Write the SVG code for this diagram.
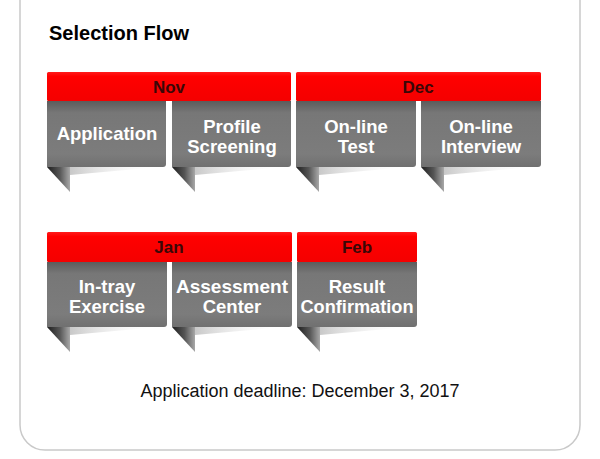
<svg xmlns="http://www.w3.org/2000/svg" width="600" height="459" viewBox="0 0 600 459">
<defs>
<linearGradient id="gBox" x1="0" y1="0" x2="0" y2="1">
<stop offset="0" stop-color="#5c5c5c"/>
<stop offset="0.18" stop-color="#777"/>
<stop offset="0.8" stop-color="#7c7c7c"/>
<stop offset="1" stop-color="#707070"/>
</linearGradient>
<linearGradient id="gTail" x1="0" y1="0" x2="1" y2="0">
<stop offset="0" stop-color="#1e1e1e"/>
<stop offset="0.55" stop-color="#555"/>
<stop offset="1" stop-color="#a8a8a8"/>
</linearGradient>
<linearGradient id="gShadow" x1="0" y1="0" x2="1" y2="0">
<stop offset="0" stop-color="#c8c8c8"/>
<stop offset="1" stop-color="#ffffff" stop-opacity="0"/>
</linearGradient>
<linearGradient id="gRed" x1="0" y1="0" x2="0" y2="1">
<stop offset="0" stop-color="#ff1a1a"/>
<stop offset="0.15" stop-color="#ff0000"/>
<stop offset="1" stop-color="#f40000"/>
</linearGradient>
</defs>
<style>
.frame{fill:#fff;stroke:#c9c9c9;stroke-width:1.5}
.title{font-family:"Liberation Sans",Arial,sans-serif;font-weight:bold;font-size:20px;fill:#000}
.bar{fill:url(#gRed)}
.month{font-family:"Liberation Sans",Arial,sans-serif;font-weight:bold;font-size:17px;fill:#3a0707;text-anchor:middle}
.box{fill:url(#gBox)}
.tail{fill:url(#gTail)}
.shadow{fill:url(#gShadow)}
.lbl{font-family:"Liberation Sans",Arial,sans-serif;font-weight:bold;font-size:18.5px;fill:#fff;text-anchor:middle}
.foot{font-family:"Liberation Sans",Arial,sans-serif;font-size:18px;fill:#111;text-anchor:middle}
</style>
<rect width="600" height="459" fill="#fff"/>
<path class="frame" d="M20,-2 V425 A25,25 0 0 0 45,450 H555 A25,25 0 0 0 580,425 V-2"/>
<text class="title" x="49" y="40">Selection Flow</text>

<g id="nov"><rect class="bar" x="47" y="72" width="244" height="29" rx="1.5"/><text class="month" x="169" y="93">Nov</text></g>
<g id="dec"><rect class="bar" x="296" y="72" width="245" height="29" rx="1.5"/><text class="month" x="418" y="93">Dec</text></g>
<g id="jan"><rect class="bar" x="47" y="232" width="245" height="30" rx="1.5"/><text class="month" x="169" y="253">Jan</text></g>
<g id="feb"><rect class="bar" x="297" y="232" width="120" height="30" rx="1.5"/><text class="month" x="357" y="253">Feb</text></g>

<g id="application" transform="translate(47,101)">
<polygon class="shadow" points="23,66 112,66 23,74"/>
<path class="box" d="M0,0 H119 V63 Q119,66 116,66 H0 Z"/>
<polygon class="tail" points="0,66 23,66 23,91"/>
<text class="lbl" x="60" y="39">Application</text>
</g>
<g id="profile-screening" transform="translate(172,101)">
<polygon class="shadow" points="23,66 112,66 23,74"/>
<path class="box" d="M0,0 H119 V63 Q119,66 116,66 H0 Z"/>
<polygon class="tail" points="0,66 23,66 23,91"/>
<text class="lbl" x="60" y="32">Profile</text>
<text class="lbl" x="60" y="52">Screening</text>
</g>
<g id="online-test" transform="translate(296,101)">
<polygon class="shadow" points="23,66 112,66 23,74"/>
<path class="box" d="M0,0 H120 V63 Q120,66 117,66 H0 Z"/>
<polygon class="tail" points="0,66 23,66 23,91"/>
<text class="lbl" x="60" y="32">On-line</text>
<text class="lbl" x="60" y="52">Test</text>
</g>
<g id="online-interview" transform="translate(421,101)">
<polygon class="shadow" points="23,66 112,66 23,74"/>
<path class="box" d="M0,0 H120 V63 Q120,66 117,66 H0 Z"/>
<polygon class="tail" points="0,66 23,66 23,91"/>
<text class="lbl" x="60" y="32">On-line</text>
<text class="lbl" x="60" y="52">Interview</text>
</g>

<g id="in-tray-exercise" transform="translate(47,262)">
<polygon class="shadow" points="23,65 112,65 23,73"/>
<path class="box" d="M0,0 H120 V62 Q120,65 117,65 H0 Z"/>
<polygon class="tail" points="0,65 23,65 23,90"/>
<text class="lbl" x="60" y="31">In-tray</text>
<text class="lbl" x="60" y="51">Exercise</text>
</g>
<g id="assessment-center" transform="translate(172,262)">
<polygon class="shadow" points="23,65 112,65 23,73"/>
<path class="box" d="M0,0 H120 V62 Q120,65 117,65 H0 Z"/>
<polygon class="tail" points="0,65 23,65 23,90"/>
<text class="lbl" x="60" y="31" textLength="112" lengthAdjust="spacingAndGlyphs">Assessment</text>
<text class="lbl" x="60" y="51">Center</text>
</g>
<g id="result-confirmation" transform="translate(297,262)">
<polygon class="shadow" points="23,65 112,65 23,73"/>
<path class="box" d="M0,0 H120 V62 Q120,65 117,65 H0 Z"/>
<polygon class="tail" points="0,65 23,65 23,90"/>
<text class="lbl" x="60" y="31">Result</text>
<text class="lbl" x="60" y="51" textLength="113" lengthAdjust="spacingAndGlyphs">Confirmation</text>
</g>

<g id="connectors"></g>

<text class="foot" x="300" y="397">Application deadline: December 3, 2017</text>
</svg>
